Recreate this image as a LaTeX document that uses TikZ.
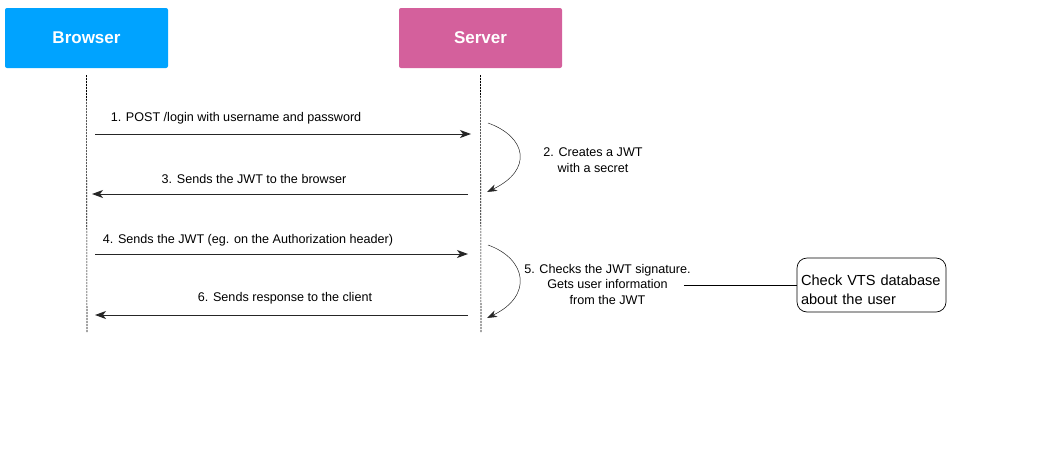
\documentclass[tikz,border=0pt]{standalone}
\usepackage{fontspec}
\setmainfont{Liberation Sans}
\usetikzlibrary{arrows.meta,positioning}
\definecolor{browserblue}{RGB}{0,163,255}
\definecolor{serverpink}{RGB}{212,96,156}
\begin{document}
\begin{tikzpicture}[
        x=1pt, y=-1pt,
        % common styles
        actor/.style={rounded corners=2pt, minimum width=163pt, minimum height=60pt, inner sep=0pt, text=white, font=\fontsize{17}{20}\selectfont\bfseries}, % header boxes
        lifeline/.style={dash pattern=on 2pt off 1pt, line width=0.6pt}, % dashed life line
        msg/.style={line width=0.9pt, black!85, -{Stealth[length=11pt, width=8pt, inset=3pt]}}, % message arrow
        selfmsg/.style={line width=0.5pt, black!85, -{Stealth[length=10pt, width=7pt, inset=3pt]}}, % curved arrow
        label text/.style={font=\fontsize{12.6}{15.5}\selectfont, align=center, inner sep=0pt}, % small labels
        note/.style={draw, line width=0.7pt, rounded corners=10pt, minimum width=149pt, minimum height=54pt, align=left, inner sep=4pt, text width=141pt, font=\fontsize{14.6}{19}\selectfont} % database note
    ]
        \useasboundingbox (0,0) rectangle (1048,464);

        % --- 1. header boxes ---
        \node[actor, fill=browserblue] (browser) at (86.5,38) {Browser};
        \node[actor, fill=serverpink] (server) at (480.5,38) {\raisebox{-3pt}{Server}};

        % --- 2. life lines ---
        \coordinate (bend) at (87,333);
        \coordinate (send) at (481,333);
        \draw[lifeline] ([yshift=-7pt]browser.south) -- (bend);
        \draw[lifeline] ([yshift=-7pt]server.south) -- (send);

        % --- 3. message arrows ---
        \coordinate (m1a) at (95,134);  \coordinate (m1b) at (471,134);
        \coordinate (m3a) at (468,194); \coordinate (m3b) at (92,194);
        \coordinate (m4a) at (95,254);  \coordinate (m4b) at (468,254);
        \coordinate (m6a) at (468,315); \coordinate (m6b) at (95,315);
        \draw[msg] (m1a) -- (m1b);
        \draw[msg] (m3a) -- (m3b);
        \draw[msg] (m4a) -- (m4b);
        \draw[msg] (m6a) -- (m6b);

        \node[label text] (l1) at (236,118) {1. POST /login with username and password};
        \node[label text] (l3) at (254,179) {3. Sends the JWT to the browser};
        \node[label text] (l4) at (248,240) {4. Sends the JWT (eg. on the Authorization header)};
        \node[label text] (l6) at (285,298) {6. Sends response to the client};

        % --- 4. server side steps (curved arrows) ---
        \coordinate (c2a) at (488,123); \coordinate (c2b) at (487,192);
        \coordinate (c5a) at (488,245); \coordinate (c5b) at (487,318);
        \draw[selfmsg] (c2a) .. controls (527,137) and (533,170) .. (c2b);
        \draw[selfmsg] (c5a) .. controls (527,259) and (533,296) .. (c5b);

        \node[label text] (l2) at (593,160) {2. Creates a JWT\\with a secret};
        \node[label text] (l5) at (607.5,284) {5. Checks the JWT signature.\\Gets user information\\from the JWT};

        % --- 5. database note ---
        \node[note] (vts) at (871.5,285) {\rule{0pt}{20pt}Check VTS database\\about the user};
        \draw[line width=0.7pt] ([xshift=-7pt]l5.east |- vts.west) -- (vts.west);

    \end{tikzpicture}
\end{document}
